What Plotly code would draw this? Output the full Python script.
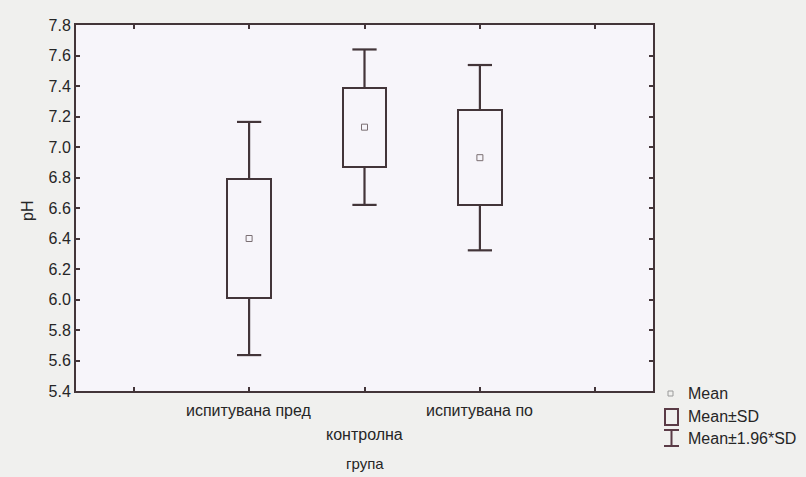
import plotly.graph_objects as go

# pH by group: mean and standard deviation
groups = ["испитувана пред", "контролна", "испитувана по"]
group_pos = [1, 2, 3]
mean_ph = [6.40, 7.13, 6.93]
sd_ph = [0.39, 0.26, 0.31]
k_ci = 1.96

y_ticks = [5.4, 5.6, 5.8, 6.0, 6.2, 6.4, 6.6, 6.8, 7.0, 7.2, 7.4, 7.6, 7.8]
legend_labels = ["Mean", "Mean±SD", "Mean±1.96*SD"]

LINE = "#433539"
TEXT = "#262626"
PAPER_BG = "#f0f0ee"
PLOT_BG = "#f7f5fa"
FONT = "Liberation Sans"

box_w = 0.38
cap_w = 0.21

fig = go.Figure()

# Mean ± SD boxes
fig.add_trace(go.Bar(
    x=group_pos,
    y=[2 * s for s in sd_ph],
    base=[m - s for m, s in zip(mean_ph, sd_ph)],
    width=box_w,
    marker=dict(color="rgba(0,0,0,0)", line=dict(color=LINE, width=2)),
    hoverinfo="skip",
    showlegend=False,
))

# Whiskers to Mean ± 1.96*SD with caps
wx, wy = [], []
for x, m, s in zip(group_pos, mean_ph, sd_ph):
    hi = m + k_ci * s
    lo = m - k_ci * s
    wx += [x, x, None, x, x, None]
    wy += [m + s, hi, None, m - s, lo, None]
    wx += [x - cap_w / 2, x + cap_w / 2, None, x - cap_w / 2, x + cap_w / 2, None]
    wy += [hi, hi, None, lo, lo, None]
fig.add_trace(go.Scatter(
    x=wx, y=wy, mode="lines",
    line=dict(color=LINE, width=2.2),
    hoverinfo="skip", showlegend=False,
))

# Means
fig.add_trace(go.Scatter(
    x=group_pos, y=mean_ph, mode="markers",
    marker=dict(symbol="square-open", size=6, color="#7a6e72", line=dict(width=1)),
    showlegend=False,
))

L, R, T, B = 76, 153, 25, 86
W, H = 806, 477
pw, ph = W - L - R, H - T - B


def px(x):
    return (x - L) / pw


def py(y):
    return (H - B - y) / ph


fig.update_layout(
    width=W, height=H,
    margin=dict(l=L, r=R, t=T, b=B),
    paper_bgcolor=PAPER_BG,
    plot_bgcolor=PLOT_BG,
    font=dict(family=FONT, color=TEXT),
    bargap=0,
    xaxis=dict(
        range=[-0.5, 4.5],
        tickvals=[0, 1, 2, 3, 4],
        ticktext=["", "", "", "", ""],
        ticks="inside", ticklen=4, tickwidth=2, tickcolor=LINE,
        showline=True, linecolor=LINE, linewidth=2, mirror="ticks",
        showgrid=False, zeroline=False,
    ),
    yaxis=dict(
        range=[5.4, 7.8],
        tickvals=y_ticks,
        tickformat=".1f",
        ticks="inside", ticklen=4, tickwidth=2, tickcolor=LINE,
        showline=True, linecolor=LINE, linewidth=2, mirror="ticks",
        showgrid=False, zeroline=False,
        tickfont=dict(size=16, color=TEXT),
    ),
)

annotations = []
# Category labels, staggered on two rows
for i, (x, g) in enumerate(zip(group_pos, groups)):
    annotations.append(dict(
        x=x, xref="x", y=py(410 if i % 2 == 0 else 434), yref="paper",
        text=g, showarrow=False, xanchor="center", yanchor="middle",
        font=dict(size=16, color=TEXT),
    ))
annotations.append(dict(
    x=2, xref="x", y=py(464), yref="paper", text="група", showarrow=False,
    xanchor="center", yanchor="middle", font=dict(size=15, color=TEXT),
))
annotations.append(dict(
    x=px(27), xref="paper", y=py(211), yref="paper", text="pH", textangle=-90,
    showarrow=False, xanchor="center", yanchor="middle", font=dict(size=16, color=TEXT),
))
for lab, yy in zip(legend_labels, [394, 416, 438]):
    annotations.append(dict(
        x=px(686), xref="paper", y=py(yy), yref="paper", text=lab, showarrow=False,
        xanchor="left", yanchor="middle", font=dict(size=16, color=TEXT),
    ))

ICON = "#5a3b46"
shapes = [
    dict(type="rect", xref="paper", yref="paper",
         x0=px(668), x1=px(673), y0=py(391), y1=py(396),
         line=dict(color="#9a9a9a", width=1)),
    dict(type="rect", xref="paper", yref="paper",
         x0=px(665), x1=px(678), y0=py(409), y1=py(425),
         line=dict(color=ICON, width=2)),
    dict(type="line", xref="paper", yref="paper",
         x0=px(671.5), x1=px(671.5), y0=py(430), y1=py(446),
         line=dict(color=ICON, width=2)),
    dict(type="line", xref="paper", yref="paper",
         x0=px(664), x1=px(679), y0=py(430), y1=py(430),
         line=dict(color=ICON, width=2)),
    dict(type="line", xref="paper", yref="paper",
         x0=px(664), x1=px(679), y0=py(446), y1=py(446),
         line=dict(color=ICON, width=2)),
]

fig.update_layout(annotations=annotations, shapes=shapes)

fig.write_html("out.html")
